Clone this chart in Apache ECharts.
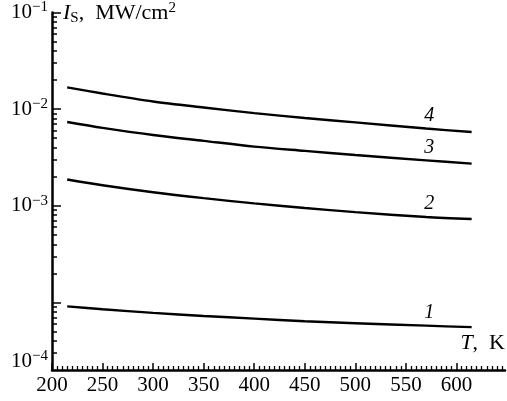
<!DOCTYPE html>
<html><head><meta charset="utf-8">
<script src="https://cdn.jsdelivr.net/npm/echarts@6/dist/echarts.min.js"></script>
<style>html,body{margin:0;padding:0;background:#fff}#c{width:507px;height:401px}</style>
</head><body><div id="c"></div>
<script>
// Data
const temps = [215, 250, 300, 350, 400, 450, 500, 570, 615];
const curve1 = [9.1e-5, 8.5e-5, 7.8e-5, 7.25e-5, 6.8e-5, 6.4e-5, 6.1e-5, 5.75e-5, 5.55e-5];
const curve2 = [1.87e-3, 1.63e-3, 1.38e-3, 1.2e-3, 1.06e-3, 9.5e-4, 8.6e-4, 7.65e-4, 7.3e-4];
const curve3 = [7.36e-3, 6.4e-3, 5.4e-3, 4.7e-3, 4.1e-3, 3.7e-3, 3.35e-3, 2.95e-3, 2.73e-3];
const curve4 = [1.68e-2, 1.45e-2, 1.2e-2, 1.04e-2, 9.1e-3, 8.1e-3, 7.3e-3, 6.3e-3, 5.8e-3];
const curveNames = ['1', '2', '3', '4'];
const labelAt = 7; // index of the point carrying the curve number

const xLabels = [200, 250, 300, 350, 400, 450, 500, 550, 600];
const yLabelTexts = ['10{s|\u22121}', '10{s|\u22122}', '10{s|\u22123}', '10{s|\u22124}'];
const yLabelValues = [1e-1, 1e-2, 1e-3, 2.45e-5];

const serif = '"Liberation Serif", "DejaVu Serif", serif';
const X_MIN = 200, X_MAX = 648, Y_MIN = 2e-5, Y_MAX = 0.1;

const xMajor = []; for (let t = 200; t <= 650; t += 50) xMajor.push(t);
const xMinor = []; for (let t = 200; t <= 648; t += 5) if (t % 50) xMinor.push(t);
const yMajor = [1e-4, 1e-3, 1e-2, 1e-1];
const yMinor = [];
for (let d = -5; d <= -2; d++) for (let k = 2; k <= 9; k++) {
  const v = k * Math.pow(10, d);
  if (v > Y_MIN * 1.01 && v < Y_MAX) yMinor.push(v);
}

const allCurves = [curve1, curve2, curve3, curve4];
const series = allCurves.map((vals, ci) => ({
  type: 'line',
  xAxisIndex: 0, yAxisIndex: 0,
  smooth: 0.3,
  symbol: 'circle',
  symbolSize: 0,
  showSymbol: true,
  itemStyle: { color: '#000' },
  lineStyle: { color: '#000', width: 2.4 },
  label: { show: false },
  data: temps.map((t, i) => i === labelAt ? {
    value: [t, vals[i]],
    label: { show: true, position: 'top', distance: 3, offset: [3, 0], formatter: curveNames[ci],
      fontFamily: serif, fontStyle: 'italic', fontSize: 20, color: '#000' }
  } : [t, vals[i]])
}));

const chart = echarts.init(document.getElementById('c'));
chart.setOption({
  animation: false,
  grid: { left: 52, right: 2, top: 8, bottom: 31 },
  xAxis: [
    { type: 'value', min: X_MIN, max: X_MAX,
      axisLine: { show: true, lineStyle: { color: '#000', width: 2.5 } },
      axisTick: { show: true, inside: true, length: 7, customValues: xMajor, lineStyle: { color: '#000', width: 1.5 } },
      axisLabel: { customValues: xLabels, margin: 5, color: '#000', fontFamily: serif, fontSize: 21 },
      splitLine: { show: false } },
    { type: 'value', min: X_MIN, max: X_MAX, position: 'bottom',
      axisLine: { show: false },
      axisTick: { show: true, inside: true, length: 4, customValues: xMinor, lineStyle: { color: '#000', width: 1.3 } },
      axisLabel: { show: false }, splitLine: { show: false } }
  ],
  yAxis: [
    { type: 'log', logBase: 10, min: Y_MIN, max: Y_MAX,
      axisLine: { show: true, lineStyle: { color: '#000', width: 2.5 } },
      axisTick: { show: true, inside: true, length: 9, customValues: yMajor, lineStyle: { color: '#000', width: 1.5 } },
      axisLabel: { customValues: yLabelValues, margin: 4, color: '#000', fontFamily: serif, fontSize: 21,
        formatter: (v) => {
          let best = 0, bd = Infinity;
          yLabelValues.forEach((lv, i) => { const d = Math.abs(Math.log10(lv) - Math.log10(v)); if (d < bd) { bd = d; best = i; } });
          return yLabelTexts[best];
        },
        rich: { s: { fontFamily: serif, fontSize: 15, color: '#000', padding: [0, 0, 10, 0] } } },
      splitLine: { show: false } },
    { type: 'log', logBase: 10, min: Y_MIN, max: Y_MAX, position: 'left',
      axisLine: { show: false },
      axisTick: { show: true, inside: true, length: 5, customValues: yMinor, lineStyle: { color: '#000', width: 1.5 } },
      axisLabel: { show: false }, splitLine: { show: false } }
  ],
  graphic: [
    { type: 'text', left: 63, top: 1,
      style: { text: '{i|I}{sub|S}{n|,  MW/cm}{sup|2}', fill: '#000',
        rich: {
          i: { fontFamily: serif, fontStyle: 'italic', fontSize: 22, fill: '#000' },
          sub: { fontFamily: serif, fontSize: 15, fill: '#000', padding: [10, 0, 0, 0] },
          n: { fontFamily: serif, fontSize: 22, fill: '#000' },
          sup: { fontFamily: serif, fontSize: 15, fill: '#000', padding: [0, 0, 10, 0] }
        } } },
    { type: 'text', right: 2, top: 332,
      style: { text: '{i|T}{n|,  K}', fill: '#000',
        rich: {
          i: { fontFamily: serif, fontStyle: 'italic', fontSize: 22, fill: '#000' },
          n: { fontFamily: serif, fontSize: 22, fill: '#000' }
        } } }
  ],
  series: series
});
</script>
</body></html>
